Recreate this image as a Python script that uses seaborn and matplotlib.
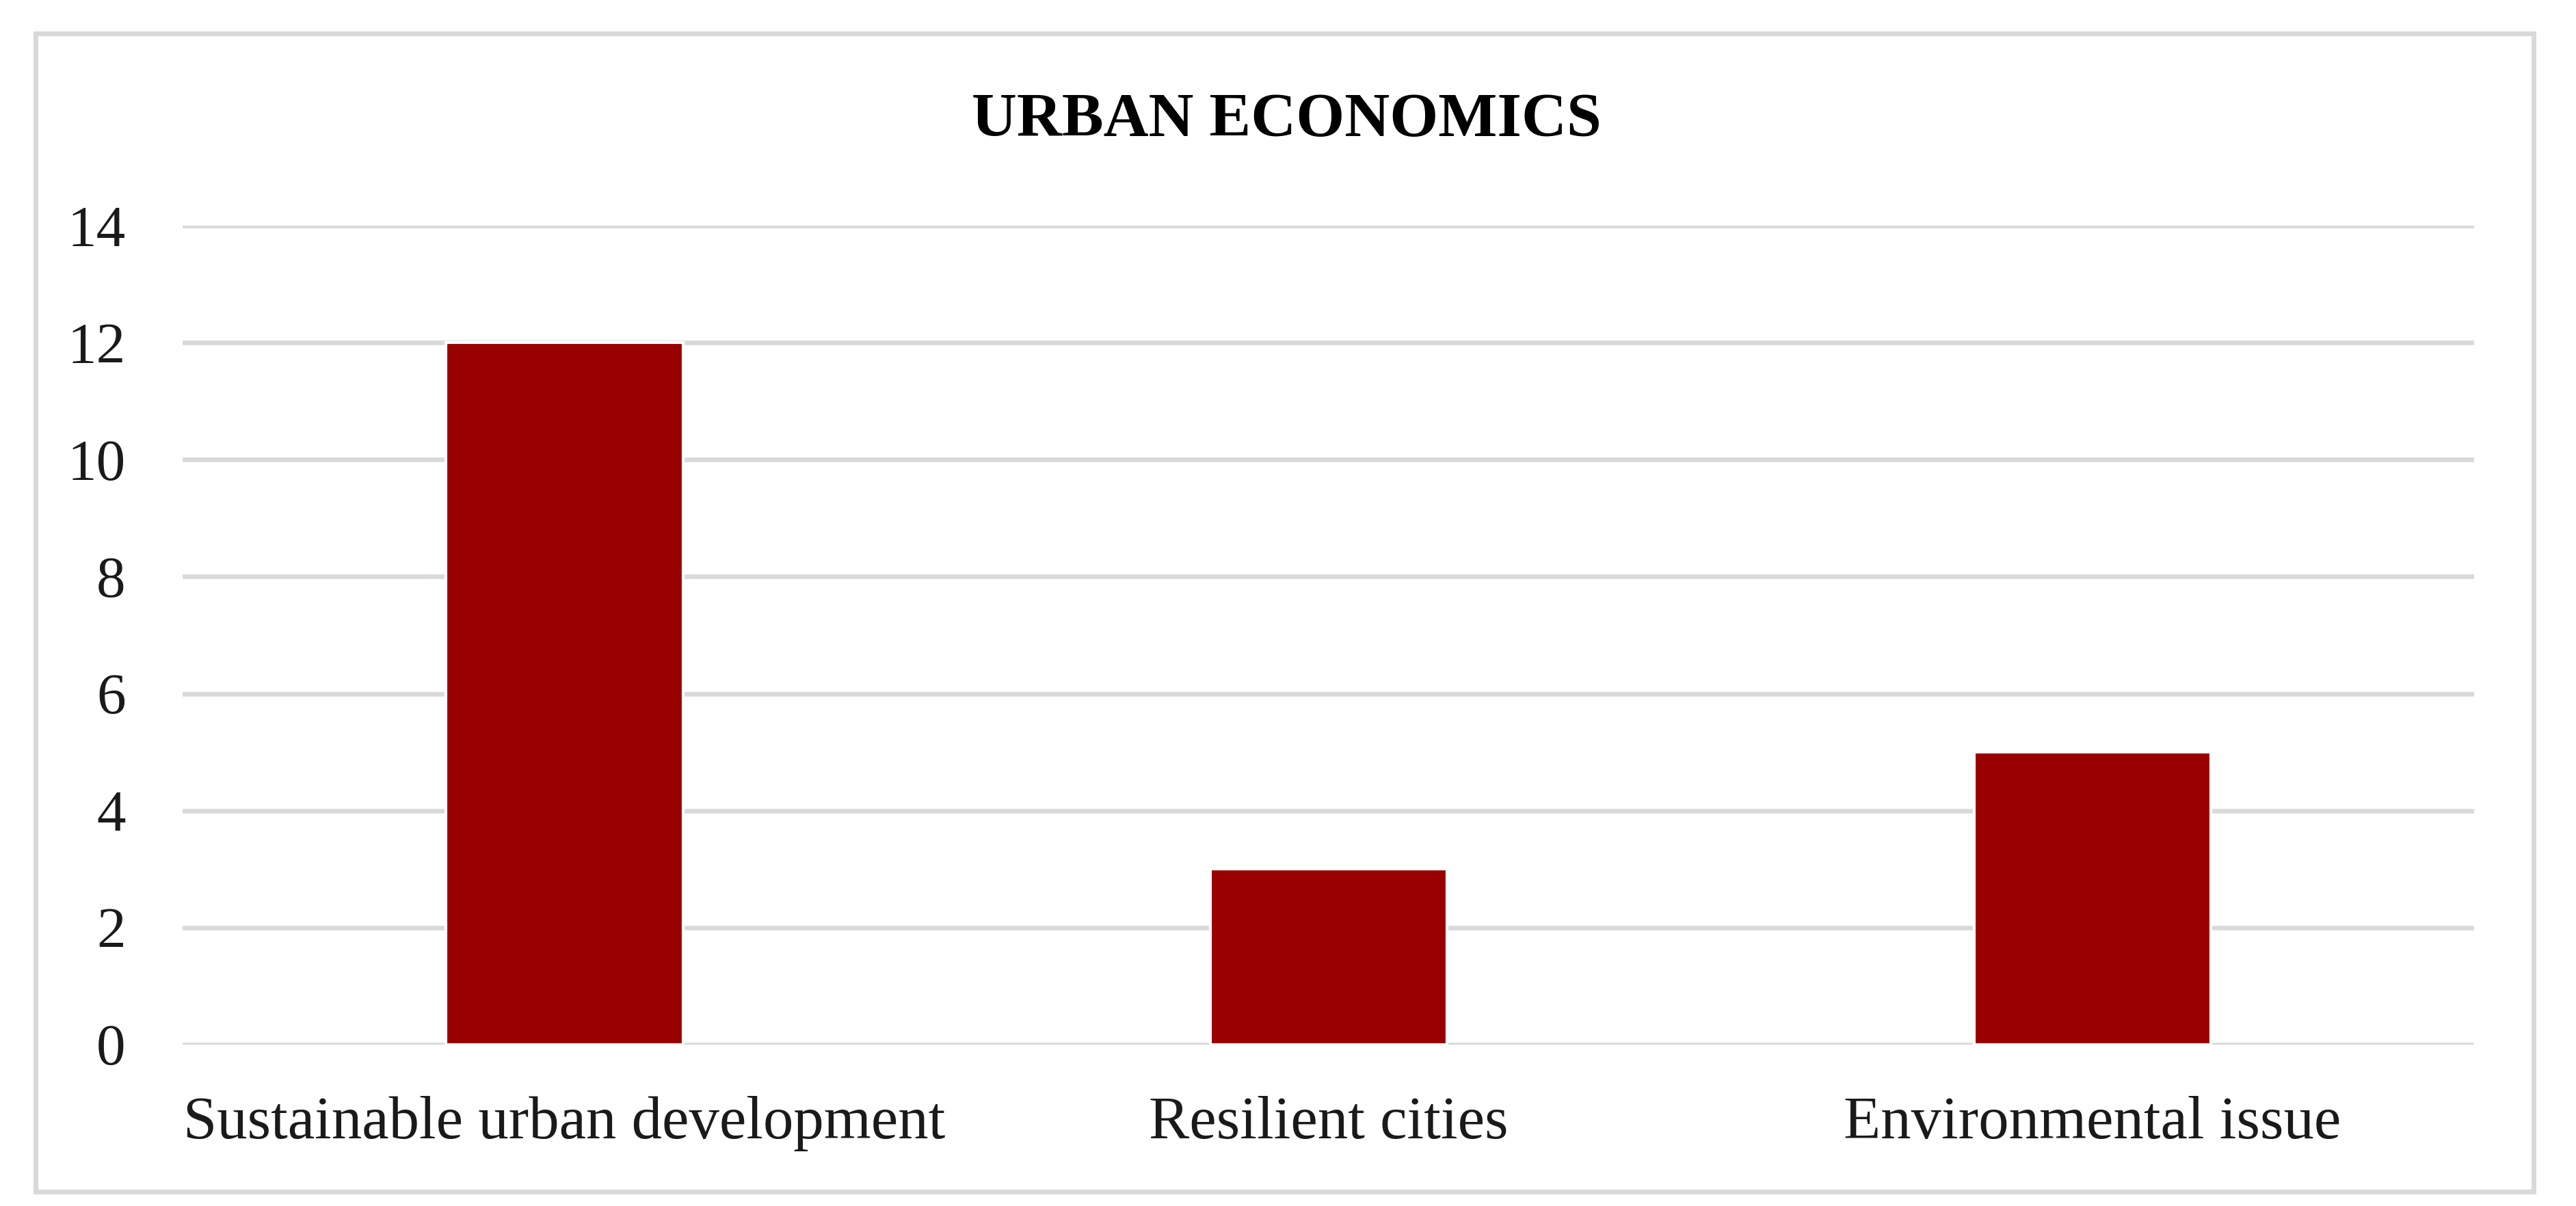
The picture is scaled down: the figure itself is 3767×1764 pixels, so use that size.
import matplotlib.pyplot as plt
import seaborn as sns
import pandas as pd
from matplotlib.patches import Rectangle

categories = ['Sustainable urban development', 'Resilient cities', 'Environmental issue']
values = [12, 3, 5]
yticks = [0, 2, 4, 6, 8, 10, 12, 14]

df = pd.DataFrame({'topic': categories, 'count': values})

sns.set_style('white')
plt.rcParams['font.family'] = ['Liberation Serif', 'DejaVu Serif']

fig = plt.figure(figsize=(3767 / 300, 1764 / 300), dpi=300)
ax = fig.add_axes([0.0709, 0.1338, 0.8896, 0.6791])

sns.barplot(x='topic', y='count', data=df, color='#990000', width=0.31,
            saturation=1, ax=ax, zorder=3)

ax.set_ylim(0, 14)
ax.set_xlim(-0.5, 2.5)
ax.set_yticks(yticks)
ax.set_yticklabels([str(t) for t in yticks])
ax.grid(axis='y', color='#d9d9d9', linewidth=1.6, zorder=0)
ax.set_axisbelow(True)
for s in ax.spines.values():
    s.set_visible(False)
ax.tick_params(axis='y', length=0, pad=20, labelsize=20.5, labelcolor='#1a1a1a')
ax.tick_params(axis='x', length=0, pad=18, labelsize=21.3, labelcolor='#1a1a1a')
ax.set_xlabel('')
ax.set_ylabel('')

fig.text(0.4995, 0.887, 'URBAN ECONOMICS', ha='center', va='baseline',
         fontsize=21.9, fontweight='bold', color='black')

border = Rectangle((0.0138, 0.0119), 0.9697, 0.9603, transform=fig.transFigure,
                   fill=False, edgecolor='#d9d9d9', linewidth=1.7)
fig.patches.append(border)

fig.savefig('out.png', dpi=300, facecolor='white')
